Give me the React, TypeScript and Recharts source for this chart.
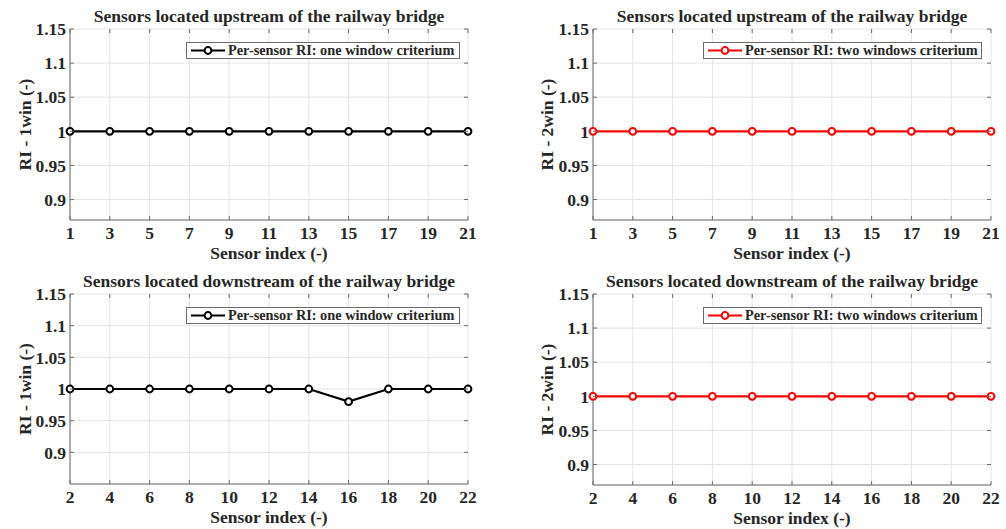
import React from 'react';
import { LineChart, Line, XAxis, YAxis, CartesianGrid, Legend } from 'recharts';

// ---- data ----
const upstreamSensors = [1, 3, 5, 7, 9, 11, 13, 15, 17, 19, 21];
const downstreamSensors = [2, 4, 6, 8, 10, 12, 14, 16, 18, 20, 22];
const upstreamRI1win = [1, 1, 1, 1, 1, 1, 1, 1, 1, 1, 1];
const upstreamRI2win = [1, 1, 1, 1, 1, 1, 1, 1, 1, 1, 1];
const downstreamRI1win = [1, 1, 1, 1, 1, 1, 1, 0.98, 1, 1, 1];
const downstreamRI2win = [1, 1, 1, 1, 1, 1, 1, 1, 1, 1, 1];
const yTicks = [0.9, 0.95, 1, 1.05, 1.1, 1.15];

const titleUp = 'Sensors located upstream of the railway bridge';
const titleDown = 'Sensors located downstream of the railway bridge';
const legendOne = 'Per-sensor RI: one window criterium';
const legendTwo = 'Per-sensor RI: two windows criterium';
const yLabelOne = 'RI - 1win (-)';
const yLabelTwo = 'RI - 2win (-)';
const xLabel = 'Sensor index (-)';

const FONT = 'Liberation Serif, Times New Roman, DejaVu Serif, serif';
const TXT = '#262626';
const BOX = '#6a6a6a';
const GRID = '#e4e4e4';
const FS = 17.5;

type PanelProps = {
  left: number;
  top: number;
  plotW: number;
  plotH: number;
  xs: number[];
  ys: number[];
  yMin: number;
  color: string;
  title: string;
  yLabel: string;
  yLabelX: number;
  legendText: string;
  legendLeft: number;
  legendTop: number;
  legendWidth: number;
};

const textStyle = { fontFamily: FONT, fontWeight: 700 as const, fontSize: FS };

function Panel(p: PanelProps) {
  const data = p.xs.map((x, i) => ({ x, v: p.ys[i] }));
  const ML = 70;
  const MT = 29;
  const MR = 10;
  const XH = 45;
  const width = ML + p.plotW + MR;
  const height = MT + p.plotH + XH;
  const xMin = p.xs[0];
  const xMax = p.xs[p.xs.length - 1];

  const XTick = (props: any) => {
    const { x, y, payload } = props;
    const ay = y - 7;
    return (
      <g>
        <line x1={x} x2={x} y1={ay} y2={ay - 4} stroke={BOX} strokeWidth={1} />
        <line x1={x} x2={x} y1={ay - p.plotH} y2={ay - p.plotH + 4} stroke={BOX} strokeWidth={1} />
        <text x={x} y={y} dy="0.71em" textAnchor="middle" fill={TXT} style={textStyle}>
          {payload.value}
        </text>
      </g>
    );
  };

  const YTick = (props: any) => {
    const { x, y, payload } = props;
    const ax = x + 4;
    return (
      <g>
        <line x1={ax} x2={ax + 4} y1={y} y2={y} stroke={BOX} strokeWidth={1} />
        <line x1={ax + p.plotW - 4} x2={ax + p.plotW} y1={y} y2={y} stroke={BOX} strokeWidth={1} />
        <text x={x} y={y} dy="0.355em" textAnchor="end" fill={TXT} style={textStyle}>
          {String(payload.value)}
        </text>
      </g>
    );
  };

  const xLabelContent = () => (
    <g>
      <text x={ML + p.plotW / 2} y={MT - 7} textAnchor="middle" fill={TXT} style={textStyle}>
        {p.title}
      </text>
      <text x={ML + p.plotW / 2} y={MT + p.plotH + 39} textAnchor="middle" fill={TXT} style={textStyle}>
        {xLabel}
      </text>
    </g>
  );
  const yLabelContent = () => {
    const cx = p.yLabelX;
    const cy = MT + p.plotH / 2;
    return (
      <text
        x={cx}
        y={cy}
        transform={`rotate(-90 ${cx} ${cy})`}
        textAnchor="middle"
        dominantBaseline="central"
        fill={TXT}
        style={textStyle}
      >
        {p.yLabel}
      </text>
    );
  };

  const legendContent = () => (
    <div
      style={{
        boxSizing: 'border-box',
        width: p.legendWidth,
        height: 17,
        border: `1px solid ${BOX}`,
        background: '#fff',
        display: 'flex',
        alignItems: 'center',
        fontFamily: FONT,
        fontWeight: 700,
        fontSize: 14.3,
        color: TXT,
        whiteSpace: 'nowrap',
        lineHeight: '15px',
      }}
    >
      <svg width={41} height={15} style={{ flex: 'none' }}>
        <line x1={4} x2={38} y1={7.5} y2={7.5} stroke={p.color} strokeWidth={2} />
        <circle cx={21} cy={7.5} r={3.4} stroke={p.color} strokeWidth={2} fill="#fff" />
      </svg>
      <span>{p.legendText}</span>
    </div>
  );

  return (
    <div style={{ position: 'absolute', left: p.left, top: p.top, width, height }}>
      <LineChart width={width} height={height} data={data} margin={{ top: MT, right: MR, bottom: 0, left: 0 }}>
        <CartesianGrid stroke={GRID} strokeWidth={1} />
        <XAxis
          dataKey="x"
          type="number"
          domain={[xMin, xMax]}
          ticks={p.xs}
          interval={0}
          height={XH}
          tickSize={0}
          tickMargin={7}
          tickLine={false}
          axisLine={{ stroke: BOX, strokeWidth: 1 }}
          tick={XTick}
          label={{ content: xLabelContent }}
        />
        <XAxis
          xAxisId="top"
          orientation="top"
          dataKey="x"
          type="number"
          domain={[xMin, xMax]}
          height={0}
          tick={false}
          tickLine={false}
          axisLine={{ stroke: BOX, strokeWidth: 1 }}
        />
        <YAxis
          type="number"
          domain={[p.yMin, 1.15]}
          ticks={yTicks}
          interval={0}
          width={ML}
          tickSize={0}
          tickMargin={4}
          tickLine={false}
          axisLine={{ stroke: BOX, strokeWidth: 1 }}
          tick={YTick}
          allowDataOverflow
          label={{ content: yLabelContent }}
        />
        <YAxis
          yAxisId="right"
          orientation="right"
          type="number"
          domain={[p.yMin, 1.15]}
          width={0}
          tick={false}
          tickLine={false}
          axisLine={{ stroke: BOX, strokeWidth: 1 }}
        />
        <Legend
          layout="vertical"
          align="center"
          verticalAlign="middle"
          wrapperStyle={{ left: p.legendLeft, top: p.legendTop, width: p.legendWidth, height: 17 }}
          content={legendContent}
        />
        <Line
          type="linear"
          dataKey="v"
          stroke={p.color}
          strokeWidth={2.2}
          dot={{ r: 3.4, stroke: p.color, strokeWidth: 2, fill: '#fff' }}
          activeDot={false}
          isAnimationActive={false}
          legendType="none"
        />
      </LineChart>
    </div>
  );
}

export default function App() {
  return (
    <div style={{ position: 'absolute', left: 0, top: 0, width: 1006, height: 529, overflow: 'hidden', background: '#fff' }}>
      <Panel
        left={0}
        top={0}
        plotW={398}
        plotH={191}
        xs={upstreamSensors}
        ys={upstreamRI1win}
        yMin={0.87}
        color="#000000"
        title={titleUp}
        yLabel={yLabelOne}
        yLabelX={25}
        legendText={legendOne}
        legendLeft={186}
        legendTop={42}
        legendWidth={274}
      />
      <Panel
        left={523}
        top={0}
        plotW={398}
        plotH={191}
        xs={upstreamSensors}
        ys={upstreamRI2win}
        yMin={0.87}
        color="#ff0000"
        title={titleUp}
        yLabel={yLabelTwo}
        yLabelX={24}
        legendText={legendTwo}
        legendLeft={180}
        legendTop={42}
        legendWidth={279}
      />
      <Panel
        left={0}
        top={265}
        plotW={398}
        plotH={190}
        xs={downstreamSensors}
        ys={downstreamRI1win}
        yMin={0.85}
        color="#000000"
        title={titleDown}
        yLabel={yLabelOne}
        yLabelX={25}
        legendText={legendOne}
        legendLeft={186}
        legendTop={42}
        legendWidth={274}
      />
      <Panel
        left={523}
        top={265}
        plotW={398}
        plotH={191}
        xs={downstreamSensors}
        ys={downstreamRI2win}
        yMin={0.87}
        color="#ff0000"
        title={titleDown}
        yLabel={yLabelTwo}
        yLabelX={24}
        legendText={legendTwo}
        legendLeft={180}
        legendTop={42}
        legendWidth={279}
      />
    </div>
  );
}
